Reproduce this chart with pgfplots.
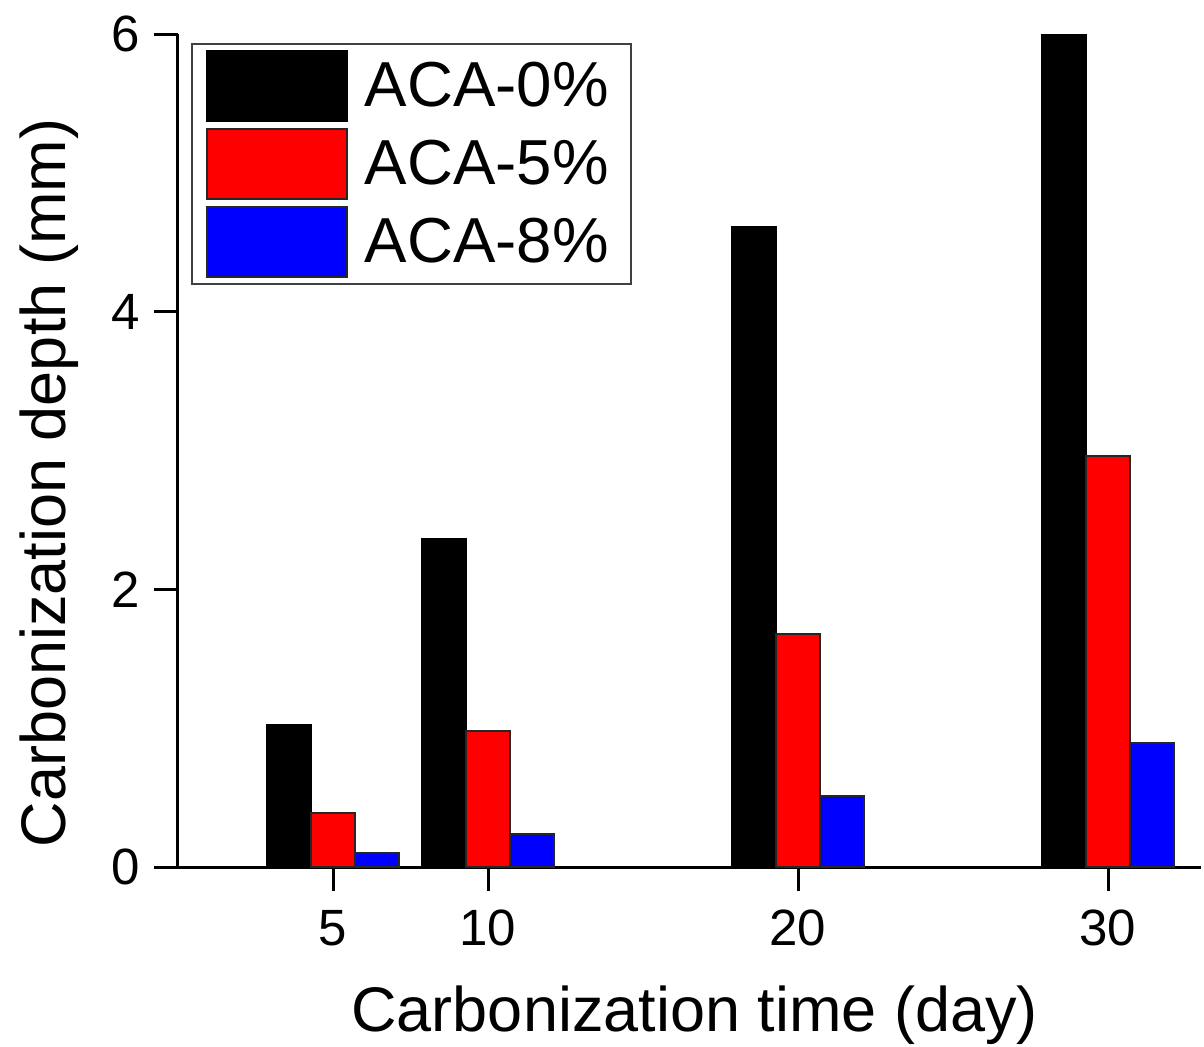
\documentclass[border=0pt]{standalone}
\usepackage{fontspec}
\setmainfont{Liberation Sans}
\usepackage{pgfplots}
\usepackage{pgfplotstable}
\pgfplotsset{compat=1.18}
\usetikzlibrary{calc}

% carbonization depth (mm) by exposure time (day)
\pgfplotstableread{
day  aca0  aca5  aca8
5    1.02  0.39  0.10
10   2.36  0.98  0.24
20   4.61  1.68  0.51
30   6.00  2.96  0.89
}\depthdata

\begin{document}
\begin{tikzpicture}
\begin{axis}[
  scale only axis,
  width=511.5pt, height=416.5pt,
  xmin=0, xmax=33, ymin=0, ymax=6,
  axis x line*=bottom, axis y line*=left,
  axis line style={line width=1.5pt, -},
  xtick={5,10,20,30}, ytick={0,2,4,6},
  tick align=outside, major tick length=12pt,
  tick style={line width=1.5pt, black},
  xtick pos=bottom, ytick pos=left,
  /pgf/number format/assume math mode=true,
  tick label style={font=\fontsize{25.5}{29}\selectfont},
  xticklabel style={yshift=-6pt},
  yticklabel style={xshift=-3.5pt},
  xlabel={Carbonization time (day)},
  ylabel={Carbonization depth (mm)},
  every axis x label/.style={at={(axis description cs:0.505,-0.197)}, anchor=base,
    font=\fontsize{31.5}{36}\selectfont},
  every axis y label/.style={at={(axis description cs:-0.11,0.461)}, anchor=base, rotate=90,
    font=\fontsize{31.5}{36}\selectfont},
  legend style={
    at={(axis description cs:0.0127,0.989)}, anchor=north west,
    draw=black!75, line width=1pt,
    font=\fontsize{31.8}{36}\selectfont,
    inner xsep=7pt, inner ysep=3pt,
    row sep=3pt,
    nodes={inner xsep=4pt, inner ysep=1pt},
    cells={anchor=west},
  },
  % filled swatch plus a little blank space before the entry text
  legend image code/.code={
    \draw[#1, line width=1pt] (0pt,-17.5pt) rectangle (70pt,17.5pt);
    \path[draw=none, fill=none] (70pt,0pt) -- (75pt,0pt);
  },
  legend cell align=left,
]
\addplot[ybar, bar width=1.42, bar shift=-1.42, fill=black, draw=black, line width=1pt]
  table[x=day, y=aca0] {\depthdata};
\addplot[ybar, bar width=1.42, bar shift=0, fill=red, draw=black!85, line width=1pt]
  table[x=day, y=aca5] {\depthdata};
\addplot[ybar, bar width=1.42, bar shift=1.42, fill=blue, draw=black!85, line width=1pt]
  table[x=day, y=aca8] {\depthdata};
\legend{ACA-0\%, ACA-5\%, ACA-8\%}
\end{axis}
% page frame around the axis box and its labels
\pgfresetboundingbox
\path[use as bounding box] ($(current axis.south west)+(-89pt,-89.5pt)$) rectangle ++(602pt,523pt);
\end{tikzpicture}
\end{document}
